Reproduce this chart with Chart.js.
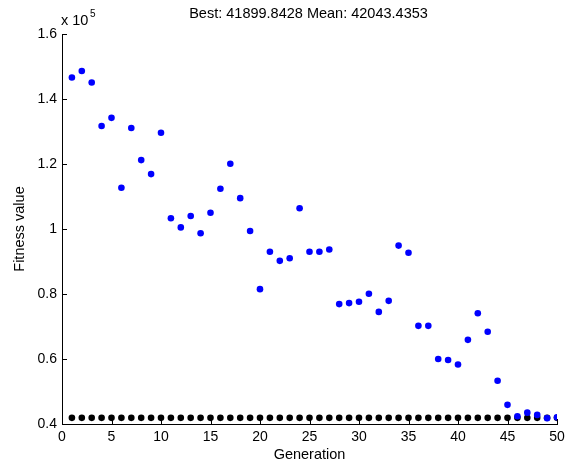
<!DOCTYPE html>
<html>
<head>
<meta charset="utf-8">
<script src="https://cdn.jsdelivr.net/npm/chart.js@4"></script>
<style>
  html, body { margin: 0; padding: 0; background: #fff; }
  canvas { display: block; }
</style>
</head>
<body>
<canvas id="gaPlot" width="571" height="464"></canvas>
<script>
// generation numbers
var generations = [1,2,3,4,5,6,7,8,9,10,11,12,13,14,15,16,17,18,19,20,
  21,22,23,24,25,26,27,28,29,30,31,32,33,34,35,36,37,38,39,40,
  41,42,43,44,45,46,47,48,49,50];

// mean fitness per generation
var meanFitness = [146600,148600,145100,131700,134200,112700,131100,121200,116900,129600,
  103300,100500,104000,98700,105000,112400,120100,109500,99400,81500,
  93000,90200,91000,106400,93000,93000,93700,76900,77200,77600,
  80100,74500,77900,94900,92700,70200,70200,60000,59700,58300,
  65900,74100,68400,53300,45900,42400,43500,42800,41800,42043];

// best fitness per generation
var bestFitness = [41900,41900,41900,41900,41900,41900,41900,41900,41900,41900,
  41900,41900,41900,41900,41900,41900,41900,41900,41900,41900,
  41900,41900,41900,41900,41900,41900,41900,41900,41900,41900,
  41900,41900,41900,41900,41900,41900,41900,41900,41900,41900,
  41900,41900,41900,41900,41900,41900,41900,41900,41900,41900];

var xTicks = [0,5,10,15,20,25,30,35,40,45,50];
var yTicks = [40000,60000,80000,100000,120000,140000,160000];

var titleText = "Best: 41899.8428 Mean: 42043.4353";
var fontName = "'Liberation Sans', Arial, sans-serif";

function toPoints(ys) {
  return generations.map(function(g, i) { return { x: g, y: ys[i] }; });
}

// inward tick marks + the texts matlab puts round the axes
var decoPlugin = {
  id: 'deco',
  afterDraw: function(chart) {
    var ctx = chart.ctx;
    var a = chart.chartArea;
    var xs = chart.scales.x, ys = chart.scales.y;
    ctx.save();
    ctx.strokeStyle = '#000';
    ctx.lineWidth = 1;
    ctx.beginPath();
    xTicks.forEach(function(t) {
      var px = Math.round(xs.getPixelForValue(t)) + 0.5;
      ctx.moveTo(px, a.bottom);
      ctx.lineTo(px, a.bottom - 5);
    });
    yTicks.forEach(function(t) {
      var py = Math.round(ys.getPixelForValue(t)) + 0.5;
      ctx.moveTo(a.left, py);
      ctx.lineTo(a.left + 5, py);
    });
    ctx.stroke();

    ctx.fillStyle = '#000';
    ctx.font = '14.5px ' + fontName;
    ctx.textAlign = 'center';
    ctx.textBaseline = 'middle';
    ctx.fillText(titleText, (a.left + a.right) / 2 - 1, 14);
    ctx.fillText('Generation', (a.left + a.right) / 2, 455);

    ctx.save();
    ctx.translate(20, (a.top + a.bottom) / 2);
    ctx.rotate(-Math.PI / 2);
    ctx.fillText('Fitness value', 0, 0);
    ctx.restore();

    ctx.textAlign = 'left';
    ctx.textBaseline = 'alphabetic';
    ctx.fillText('x 10', 61, 25);
    ctx.font = '10px ' + fontName;
    ctx.fillText('5', 90, 17);
    ctx.restore();
  }
};

new Chart(document.getElementById('gaPlot'), {
  type: 'scatter',
  data: {
    datasets: [{
      label: 'Mean fitness',
      data: toPoints(meanFitness),
      backgroundColor: '#0000ff',
      borderColor: '#0000ff',
      pointRadius: 3.3,
      borderWidth: 0,
      order: 0
    }, {
      label: 'Best fitness',
      data: toPoints(bestFitness),
      backgroundColor: '#000000',
      borderColor: '#000000',
      pointRadius: 3.3,
      borderWidth: 0,
      order: 1
    }]
  },
  options: {
    responsive: false,
    animation: false,
    devicePixelRatio: 1,
    layout: { padding: { left: 0, right: 14, top: 34, bottom: 0 } },
    plugins: { legend: { display: false }, tooltip: { enabled: false } },
    scales: {
      x: {
        type: 'linear',
        min: 0, max: 50,
        afterFit: function(s) { s.height = 40; },
        afterBuildTicks: function(s) { s.ticks = xTicks.map(function(v) { return { value: v }; }); },
        grid: { display: false, drawTicks: false },
        border: { display: true, color: '#000', width: 1 },
        ticks: { color: '#000', padding: 5, autoSkip: false, font: { size: 14, family: fontName }, maxRotation: 0 }
      },
      y: {
        type: 'linear',
        min: 40000, max: 160000,
        afterFit: function(s) { s.width = 62; },
        afterBuildTicks: function(s) { s.ticks = yTicks.map(function(v) { return { value: v }; }); },
        grid: { display: false, drawTicks: false },
        border: { display: true, color: '#000', width: 1 },
        ticks: {
          color: '#000', padding: 5, autoSkip: false, font: { size: 14, family: fontName },
          callback: function(v) { return String(Math.round(v / 1e4) / 10); }
        }
      }
    }
  },
  plugins: [decoPlugin]
});
</script>
</body>
</html>
